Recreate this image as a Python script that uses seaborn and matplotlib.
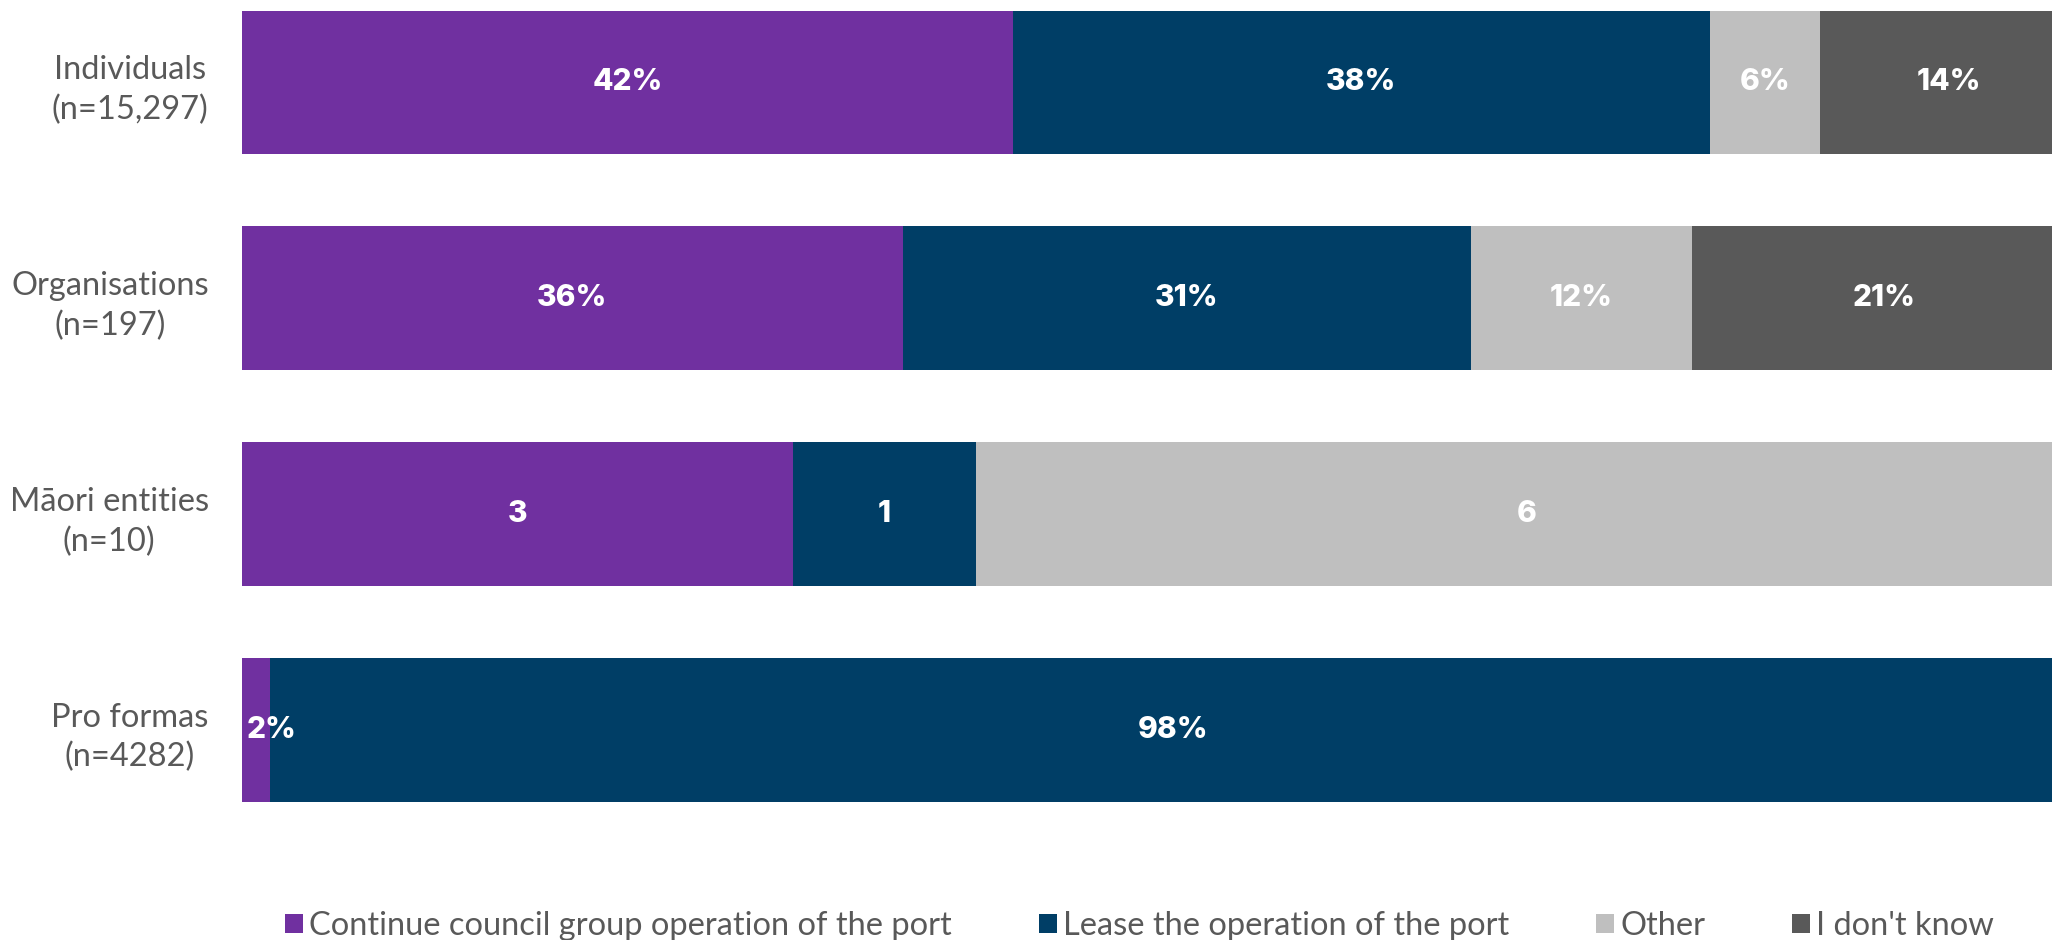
import matplotlib
matplotlib.use("Agg")
import matplotlib.pyplot as plt
from matplotlib.patches import Patch
import seaborn as sns
import pandas as pd

# ---- data ----
groups = ["Individuals\n(n=15,297)", "Organisations\n(n=197)",
          "Māori entities\n(n=10)", "Pro formas\n(n=4282)"]
series = ["Continue council group operation of the port",
          "Lease the operation of the port", "Other", "I don't know"]
continue_vals = [42, 36, 30, 1.5]
lease_vals = [38, 31, 10, 98.5]
other_vals = [6, 12, 60, 0]
dontknow_vals = [14, 21, 0, 0]
continue_labels = ["42%", "36%", "3", "2%"]
lease_labels = ["38%", "31%", "1", "98%"]
other_labels = ["6%", "12%", "6", ""]
dontknow_labels = ["14%", "21%", "", ""]

colors = ["#7030A0", "#003E66", "#BFBFBF", "#595959"]

vals = [continue_vals, lease_vals, other_vals, dontknow_vals]
labels = [continue_labels, lease_labels, other_labels, dontknow_labels]

sns.set_theme(style="white")
plt.rcParams["font.family"] = ["Lato", "DejaVu Sans"]

fig = plt.figure(figsize=(20.52, 9.40), dpi=100)
ax = fig.add_axes([242 / 2052, 1 - 802 / 940, (2077 - 242) / 2052, (802 - 10.5) / 940])

# cumulative right edges
cums = []
running = [0.0] * len(groups)
for v in vals:
    running = [r + x for r, x in zip(running, v)]
    cums.append(list(running))

# draw from the outermost cumulative to the innermost so each segment shows
for i in reversed(range(len(series))):
    df = pd.DataFrame({"group": groups, "edge": cums[i]})
    sns.barplot(data=df, x="edge", y="group", orient="h", color=colors[i],
                width=0.667, linewidth=0, saturation=1, ax=ax, order=groups)

ax.set_xlim(0, 100)
ax.set_ylim(3 + 0.3335, -0.3335)
ax.set_xlabel("")
ax.set_ylabel("")
ax.set_xticks([])
for s in ax.spines.values():
    s.set_visible(False)
ax.set_yticks(range(len(groups)))
ax.set_yticklabels(groups, fontsize=23.5, color="#595959")
ax.tick_params(axis="y", length=0, pad=24)
for tick in ax.yaxis.get_major_ticks():
    tick.label1.set_multialignment("center")
    tick.label1.set_linespacing(1.38)
    tick.label1.set_va("center_baseline")

# value labels
for i in range(len(series)):
    for j in range(len(groups)):
        v = vals[i][j]
        txt = labels[i][j]
        if not txt or v <= 0:
            continue
        left = cums[i][j] - v
        if v < 3:
            ax.annotate(txt, xy=(left, j), xytext=(3.5, 0), textcoords="offset points",
                        ha="left", va="center", color="white", fontsize=21.5,
                        fontweight="heavy", family=["Inter", "DejaVu Sans"])
        else:
            ax.text(left + v / 2, j, txt, ha="center", va="center", color="white",
                    fontsize=21.5, fontweight="heavy", family=["Inter", "DejaVu Sans"])

handles = [Patch(facecolor=c, edgecolor="none") for c in colors]
fig.legend(handles, series, loc="center left",
           bbox_to_anchor=(285 / 2052, 1 - 926 / 940), ncol=4, frameon=False,
           fontsize=23.5, labelcolor="#595959", handlelength=0.55, handleheight=0.55,
           handletextpad=0.2, columnspacing=2.65, borderpad=0, borderaxespad=0)

fig.savefig("out.png", dpi=100)
